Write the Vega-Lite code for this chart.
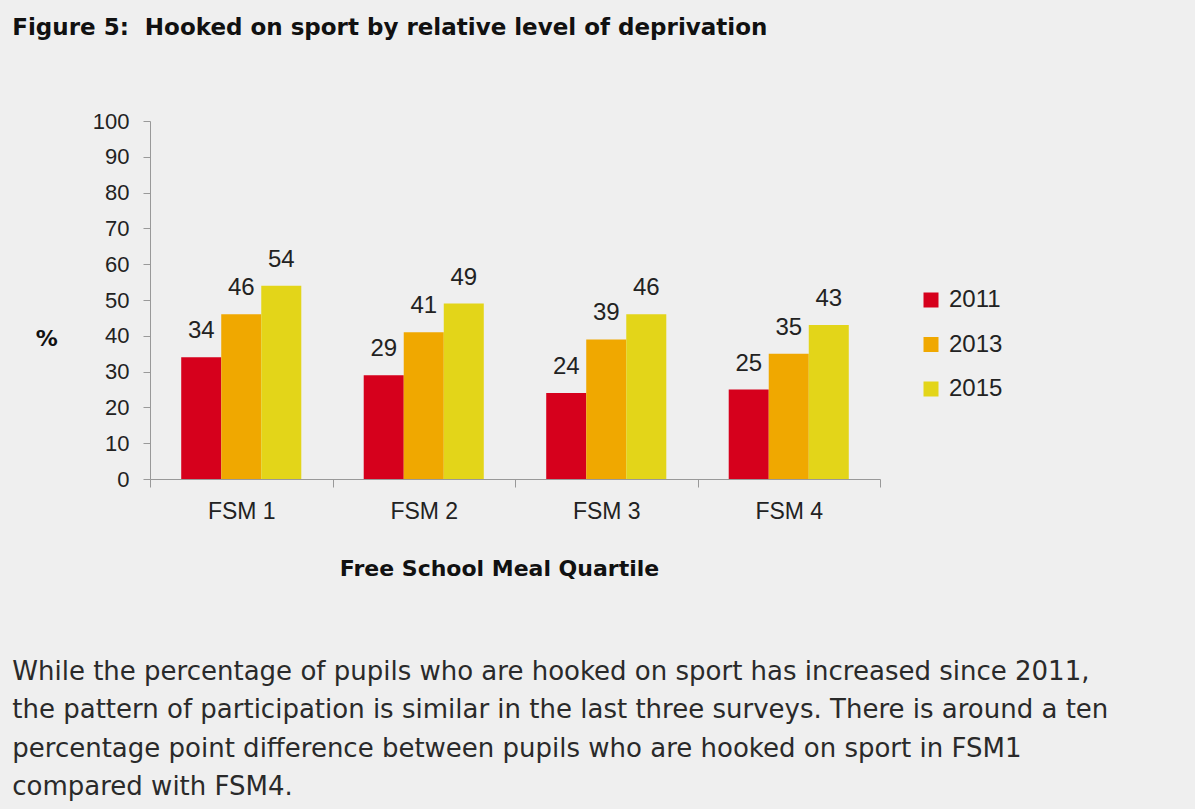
{
  "$schema": "https://vega.github.io/schema/vega-lite/v6.json",
  "background": "#efefef",
  "padding": {"left": 12, "top": 17, "right": 90, "bottom": 10},
  "title": {
    "text": [
      "While the percentage of pupils who are hooked on sport has increased since 2011,",
      "the pattern of participation is similar in the last three surveys.  There is around a ten",
      "percentage point difference between pupils who are hooked on sport in FSM1",
      "compared with FSM4."
    ],
    "orient": "bottom",
    "anchor": "start",
    "frame": "bounds",
    "offset": 80,
    "font": "DejaVu Sans",
    "fontSize": 26,
    "fontWeight": "normal",
    "lineHeight": 38.3,
    "color": "#2a2a2a"
  },
  "vconcat": [
    {
      "title": {
        "text": "Figure 5:\u00a0 Hooked on sport by relative level of deprivation",
        "anchor": "start",
        "frame": "bounds",
        "dx": -23,
        "offset": 70,
        "font": "DejaVu Sans",
        "fontSize": 23,
        "fontWeight": "bold",
        "color": "#111111"
      },
      "width": 730,
      "height": 358,
      "data": {
        "values": [
          {"quartile": "FSM 1", "year": "2011", "pct": 34},
          {"quartile": "FSM 1", "year": "2013", "pct": 46},
          {"quartile": "FSM 1", "year": "2015", "pct": 54},
          {"quartile": "FSM 2", "year": "2011", "pct": 29},
          {"quartile": "FSM 2", "year": "2013", "pct": 41},
          {"quartile": "FSM 2", "year": "2015", "pct": 49},
          {"quartile": "FSM 3", "year": "2011", "pct": 24},
          {"quartile": "FSM 3", "year": "2013", "pct": 39},
          {"quartile": "FSM 3", "year": "2015", "pct": 46},
          {"quartile": "FSM 4", "year": "2011", "pct": 25},
          {"quartile": "FSM 4", "year": "2013", "pct": 35},
          {"quartile": "FSM 4", "year": "2015", "pct": 43}
        ]
      },
      "encoding": {
        "x": {
          "field": "quartile",
          "type": "nominal",
          "title": "Free School Meal Quartile",
          "scale": {"paddingInner": 0, "paddingOuter": 0},
          "axis": {
            "labelAngle": 0,
            "labelFont": "Liberation Sans",
            "labelFontSize": 23,
            "labelColor": "#222222",
            "labelPadding": 13,
            "tickBand": "extent",
            "tickSize": 8,
            "tickColor": "#999999",
            "domainColor": "#999999",
            "titleFont": "DejaVu Sans",
            "titleFontSize": 22,
            "titleFontWeight": "bold",
            "titleColor": "#111111",
            "titlePadding": 35,
            "titleX": 349
          }
        },
        "xOffset": {
          "field": "year",
          "type": "nominal",
          "scale": {"paddingInner": 0, "paddingOuter": 0.78}
        },
        "y": {
          "field": "pct",
          "type": "quantitative",
          "title": "%",
          "scale": {"domain": [0, 100]},
          "axis": {
            "values": [0, 10, 20, 30, 40, 50, 60, 70, 80, 90, 100],
            "grid": false,
            "labelFont": "Liberation Sans",
            "labelFontSize": 22,
            "labelColor": "#222222",
            "labelPadding": 14,
            "tickSize": 7,
            "tickColor": "#999999",
            "domainColor": "#999999",
            "titleAngle": 0,
            "titleY": 217,
            "titleBaseline": "middle",
            "titleFont": "DejaVu Sans",
            "titleFontSize": 22,
            "titleFontWeight": "bold",
            "titleColor": "#111111",
            "titlePadding": 46
          }
        }
      },
      "layer": [
        {
          "mark": {"type": "bar"},
          "encoding": {
            "color": {
              "field": "year",
              "type": "nominal",
              "scale": {"domain": ["2011", "2013", "2015"], "range": ["#d6001c", "#f0a800", "#e3d519"]},
              "legend": {
                "title": null,
                "orient": "none",
                "legendX": 769,
                "legendY": 167,
                "symbolType": "square",
                "symbolSize": 225,
                "symbolStrokeWidth": 0,
                "symbolOpacity": 1,
                "labelFont": "Liberation Sans",
                "labelFontSize": 24,
                "labelColor": "#222222",
                "labelOffset": 6,
                "rowPadding": 20.5
              }
            }
          }
        },
        {
          "mark": {"type": "text", "baseline": "bottom", "dy": -14, "font": "Liberation Sans", "fontSize": 24, "color": "#222222"},
          "encoding": {
            "text": {"field": "pct", "type": "quantitative"}
          }
        }
      ]
    }
  ],
  "config": {
    "view": {"stroke": null},
    "concat": {"spacing": 0}
  }
}
